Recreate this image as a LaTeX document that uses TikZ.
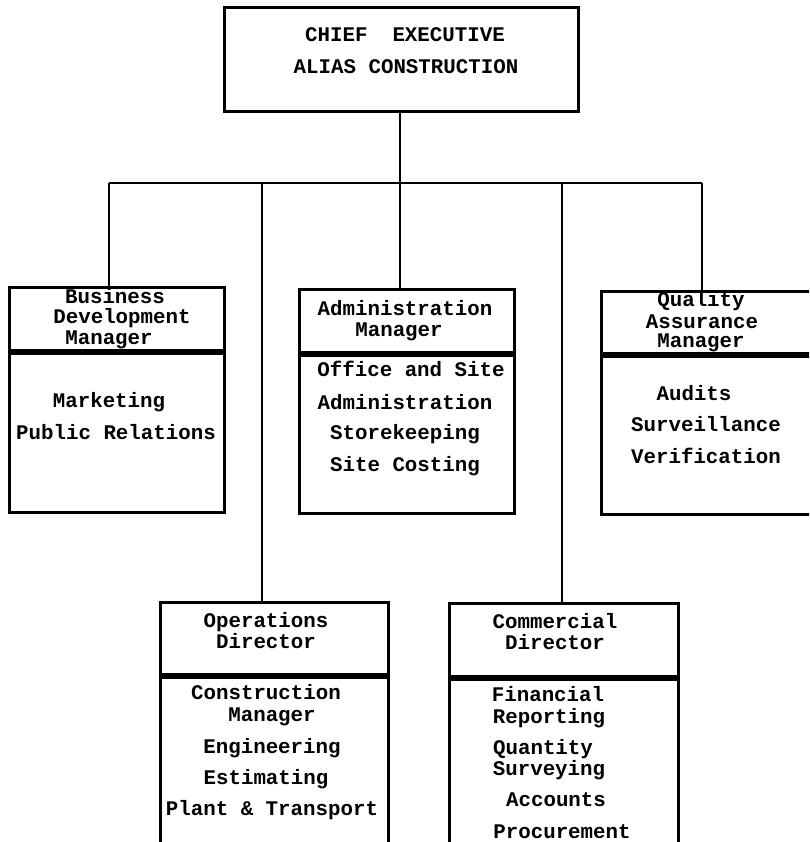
\documentclass[tikz,border=0pt]{standalone}
\usepackage{fontspec}
\newfontfamily\chartfont{Liberation Mono}
\tikzset{
  box/.style={draw, line width=2.8pt, inner sep=0pt, anchor=north west},
  wire/.style={line width=2.8pt},
  lbl/.style={anchor=base, inner sep=0pt, text height=12pt, text depth=3pt,
    font=\chartfont\bfseries\fontsize{20.8}{24}\selectfont},
}
\begin{document}
\begin{tikzpicture}[x=1pt,y=-1pt]
\useasboundingbox (0,0) rectangle (809,842);
\clip (0,0) rectangle (809,842);

% top box
\node[box, minimum width=354pt, minimum height=104pt] (chief) at (223,6) {};
\node[lbl] (c1) at (405,42) {CHIEF\ \ EXECUTIVE};
\node[lbl] (c2) at (406,74) {ALIAS CONSTRUCTION};

% managers: header box over body box
\node[box, minimum width=215pt, minimum height=63pt]  (bdh) at (8,286) {};
\node[box, minimum width=215pt, minimum height=159pt] (bdb) at (bdh.south west) {};
\node[box, minimum width=215pt, minimum height=63pt]  (admh) at (298,288) {};
\node[box, minimum width=215pt, minimum height=158pt] (admb) at (admh.south west) {};
\node[box, minimum width=212pt, minimum height=62pt]  (qah) at (600,290) {};
\node[box, minimum width=212pt, minimum height=158pt] (qab) at (qah.south west) {};

% directors
\node[box, minimum width=228pt, minimum height=72pt]  (opsh) at (159,601) {};
\node[box, minimum width=228pt, minimum height=167pt] (opsb) at (opsh.south west) {};
\node[box, minimum width=229pt, minimum height=73pt]  (comh) at (448,602) {};
\node[box, minimum width=229pt, minimum height=180pt] (comb) at (comh.south west) {};

% connectors
\coordinate (hub) at (400,183);
\coordinate (jBD) at (109,183);
\coordinate (jOps) at (262,183);
\coordinate (jCom) at (562,183);
\coordinate (jQA) at (702,183);
\draw[wire] (chief.south -| hub) -- (hub);
\draw[wire] (jBD) -- (jQA);
\draw[wire] (jBD) -- (jBD |- bdh.north);
\draw[wire] (jOps) -- (jOps |- opsh.north);
\draw[wire] (hub) -- (hub |- admh.north);
\draw[wire] (jCom) -- (jCom |- comh.north);
\draw[wire] (jQA) -- (jQA |- qah.north);

% Business Development
\node[lbl] (bd1) at (115,303) {Business};
\node[lbl] (bd2) at (122,323) {Development};
\node[lbl] (bd3) at (109,344) {Manager};
\node[lbl] (bd4) at (109,407) {Marketing};
\node[lbl] (bd5) at (116,439) {Public Relations};

% Administration
\node[lbl] (ad1) at (405,315) {Administration};
\node[lbl] (ad2) at (399,336) {Manager};
\node[lbl] (ad3) at (411,376) {Office and Site};
\node[lbl] (ad4) at (405,409) {Administration};
\node[lbl] (ad5) at (405,439) {Storekeeping};
\node[lbl] (ad6) at (405,471) {Site Costing};

% Quality Assurance
\node[lbl] (qa1) at (701,306) {Quality};
\node[lbl] (qa2) at (702,328) {Assurance};
\node[lbl] (qa3) at (701,347) {Manager};
\node[lbl] (qa4) at (694,400) {Audits};
\node[lbl] (qa5) at (706,431) {Surveillance};
\node[lbl] (qa6) at (706,463) {Verification};

% Operations
\node[lbl] (op1) at (266,627) {Operations};
\node[lbl] (op2) at (266,648) {Director};
\node[lbl] (op3) at (266,699) {Construction};
\node[lbl] (op4) at (272,721) {Manager};
\node[lbl] (op5) at (272,753) {Engineering};
\node[lbl] (op6) at (266,784) {Estimating};
\node[lbl] (op7) at (272,815) {Plant \& Transport};

% Commercial
\node[lbl] (cm1) at (555,628) {Commercial};
\node[lbl] (cm2) at (555,649) {Director};
\node[lbl] (cm3) at (548,701) {Financial};
\node[lbl] (cm4) at (549,723) {Reporting};
\node[lbl] (cm5) at (543,754) {Quantity};
\node[lbl] (cm6) at (549,775) {Surveying};
\node[lbl] (cm7) at (556,806) {Accounts};
\node[lbl] (cm8) at (562,838) {Procurement};
\end{tikzpicture}
\end{document}
